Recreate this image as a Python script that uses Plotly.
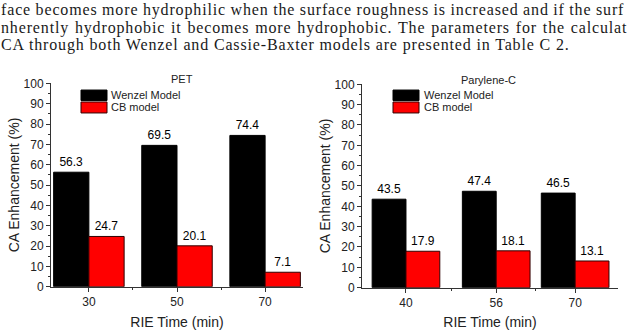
import plotly.graph_objects as go

# ---- data ----
pet_time = [30, 50, 70]
pet_wenzel = [56.3, 69.5, 74.4]
pet_cb = [24.7, 20.1, 7.1]

par_time = [40, 56, 70]
par_wenzel = [43.5, 47.4, 46.5]
par_cb = [17.9, 18.1, 13.1]

series_names = ["Wenzel Model", "CB model"]
panel_titles = ["PET", "Parylene-C"]
x_title = "RIE Time (min)"
y_title = "CA Enhancement (%)"
body_lines = [
    "face becomes more hydrophilic when the surface roughness is increased and if the surf",
    "nherently hydrophobic it becomes more hydrophobic. The parameters for the calculat",
    "CA through both Wenzel and Cassie-Baxter models are presented in Table C 2.",
]
body_wordspace = [-0.3, 1.0, 0.0]

W, H = 628, 330
def px(x):
    return x / W
def py(y):
    return (H - y) / H

SANS = "Liberation Sans, Arial, sans-serif"
BLACK = "#000000"
RED = "#ff0000"
AX = "#333333"

fig = go.Figure()

panels = [
    dict(t=pet_time, w=pet_wenzel, c=pet_cb, bw=8, xa="x", ya="y"),
    dict(t=par_time, w=par_wenzel, c=par_cb, bw=6, xa="x2", ya="y2"),
]
for p in panels:
    fig.add_trace(go.Bar(x=p["t"], y=p["w"], name=series_names[0], width=p["bw"], offset=-p["bw"],
                         marker=dict(color=BLACK, line=dict(color=BLACK, width=1)),
                         texttemplate="%{y:.1f}", textposition="outside", cliponaxis=False,
                         textfont=dict(family=SANS, size=12, color=BLACK),
                         xaxis=p["xa"], yaxis=p["ya"], showlegend=False))
    fig.add_trace(go.Bar(x=p["t"], y=p["c"], name=series_names[1], width=p["bw"], offset=0,
                         marker=dict(color=RED, line=dict(color="#300000", width=1)),
                         texttemplate="%{y:.1f}", textposition="outside", cliponaxis=False,
                         textfont=dict(family=SANS, size=12, color=BLACK),
                         xaxis=p["xa"], yaxis=p["ya"], showlegend=False))

def xaxis(dom, rng, tv, mtv, anchor):
    return dict(domain=dom, range=rng, tickvals=tv, ticktext=[str(v) for v in tv],
                ticks="outside", ticklen=4, tickwidth=1, tickcolor=AX,
                minor=dict(tickvals=mtv, ticks="outside", ticklen=2, tickcolor=AX),
                showline=True, linecolor=AX, linewidth=1, showgrid=False, zeroline=False,
                tickfont=dict(family=SANS, size=12, color="#222"),
                title=dict(text=x_title, font=dict(family=SANS, size=14, color="#222"), standoff=10),
                anchor=anchor, fixedrange=True)

def yaxis(dom, anchor):
    return dict(domain=dom, range=[0, 100], dtick=10, ticks="outside", ticklen=4, tickwidth=1,
                tickcolor=AX, minor=dict(dtick=5, ticks="outside", ticklen=2, tickcolor=AX),
                showline=True, linecolor=AX, linewidth=1, showgrid=False, zeroline=False,
                tickfont=dict(family=SANS, size=12, color="#222"),
                title=dict(text=y_title, font=dict(family=SANS, size=14, color="#222"), standoff=0),
                anchor=anchor, fixedrange=True)

fig.update_layout(
    width=W, height=H, autosize=False,
    margin=dict(l=0, r=0, t=0, b=0),
    paper_bgcolor="white", plot_bgcolor="white",
    barmode="overlay",
    xaxis=xaxis([px(51), px(303)], [21.4, 78.6], pet_time, [40, 60], "y"),
    yaxis=yaxis([py(293), py(80)], "x"),
    xaxis2=xaxis([px(362), px(618)], [32.2, 77.6], par_time, [48, 63], "y2"),
    yaxis2=yaxis([py(294), py(81)], "x2"),
)

annotations = []
# body text
for i, line in enumerate(body_lines):
    styled = '<span style="letter-spacing:0.85px;word-spacing:%.1fpx">%s</span>' % (body_wordspace[i], line)
    annotations.append(dict(text=styled, x=px(-1), y=py(3.5 + 18.3 * i), xref="paper", yref="paper",
                            xanchor="left", yanchor="middle", showarrow=False,
                            font=dict(family="Liberation Serif, serif", size=16, color="#1a1a1a")))
# panel titles
annotations.append(dict(text=panel_titles[0], x=px(182), y=py(75), xref="paper", yref="paper",
                        xanchor="center", yanchor="middle",
                        showarrow=False, font=dict(family=SANS, size=11, color="#222")))
annotations.append(dict(text=panel_titles[1], x=px(488), y=py(77), xref="paper", yref="paper",
                        xanchor="center", yanchor="middle",
                        showarrow=False, font=dict(family=SANS, size=11, color="#222")))

shapes = []
for (x0, x1, tx) in [(81, 107, 109), (393, 419, 422)]:
    shapes.append(dict(type="rect", xref="paper", yref="paper", x0=px(x0), x1=px(x1),
                       y0=py(98), y1=py(87), fillcolor=BLACK, line=dict(color=BLACK, width=1)))
    shapes.append(dict(type="rect", xref="paper", yref="paper", x0=px(x0), x1=px(x1),
                       y0=py(111), y1=py(99.5), fillcolor=RED, line=dict(color="#300000", width=1)))
    annotations.append(dict(text=series_names[0], x=px(tx), y=py(92.5), xref="paper", yref="paper",
                            xanchor="left", yanchor="middle", showarrow=False,
                            font=dict(family=SANS, size=11, color="#222")))
    annotations.append(dict(text=series_names[1], x=px(tx), y=py(105), xref="paper", yref="paper",
                            xanchor="left", yanchor="middle", showarrow=False,
                            font=dict(family=SANS, size=11, color="#222")))

fig.update_layout(annotations=annotations, shapes=shapes)
fig.write_html("out.html")
